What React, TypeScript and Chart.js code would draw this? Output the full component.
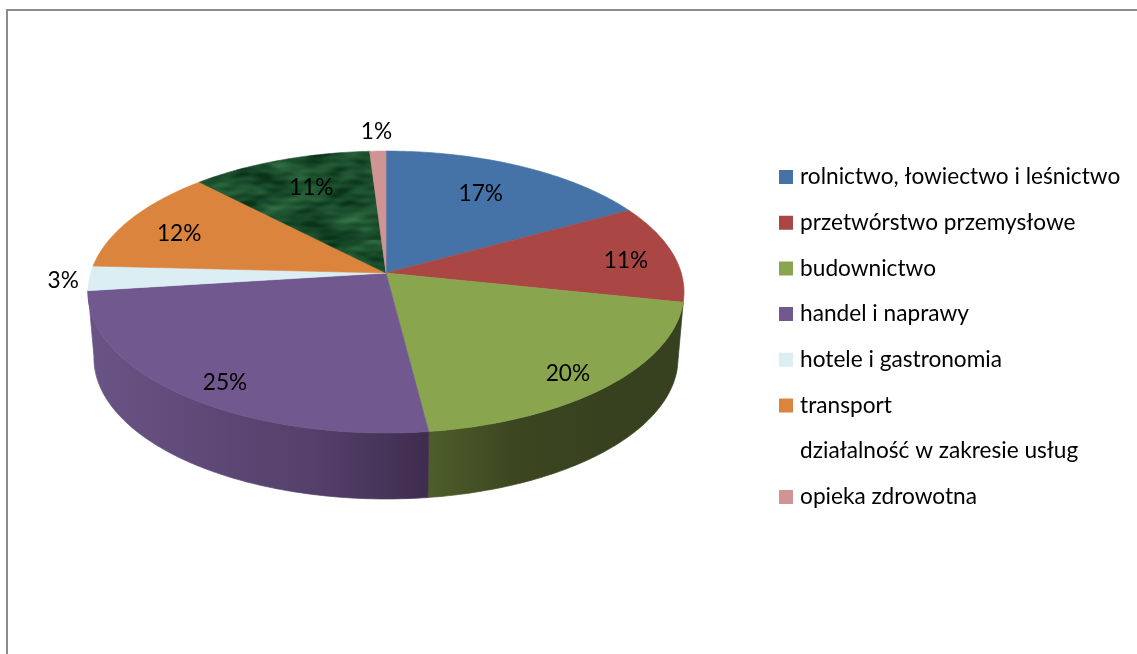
import React, { useEffect, useRef } from "react";
import { Chart, registerables } from "chart.js";

Chart.register(...registerables);

const categories = [
  "rolnictwo, łowiectwo i leśnictwo",
  "przetwórstwo przemysłowe",
  "budownictwo",
  "handel i naprawy",
  "hotele i gastronomia",
  "transport",
  "działalność w zakresie usług",
  "opieka zdrowotna",
];
const shares = [17, 11.3, 19.7, 25, 2.8, 12, 11.2, 1];
const percentLabels = ["17%", "11%", "20%", "25%", "3%", "12%", "11%", "1%"];
const sliceColors = ["#4572a7", "#aa4643", "#89a54e", "#71588f", "#dbeef4", "#db843d", "TEXTURE", "#d09494"];
const legendHasSwatch = [true, true, true, true, true, true, false, true];
const labelRadial = [0.723, 0.83, 0.865, 0.866, 1.087, 0.788, 0.732, 1.19];
const labelAngleShift = [-1.8, 1.5, 2.2, -3.1, -0.4, -2.1, 1.6, 0];
const sideStops: Record<number, string[]> = {
  2: ["#4e5d2b", "#3c4721", "#37411f", "#37411f"],
  3: ["#6a5486", "#5e4977", "#54406a", "#3f2d4f"],
};

const FONT = "Lato";
const FONT_SIZE = 22.65;
const SWATCH_STROKE = 8.5;
const SWATCH_BOX = 5.5;
const APEX_X = 386;
const APEX_Y = 273;
const K = 0.1348;
const A = 295.3;
const B = 138.4;
const DEPTH = 66;
const BOTTOM_SCALE = 0.98;

function project(theta: number, f = 1) {
  const x = Math.sin(theta) * f;
  const u = -Math.cos(theta) * f;
  const d = 1 - K * u;
  return { x: APEX_X + (A * x) / d, y: APEX_Y + (B * u) / d };
}

function makeTexture(ctx: CanvasRenderingContext2D) {
  const W = 420;
  const H = 240;
  const c = document.createElement("canvas");
  c.width = W;
  c.height = H;
  const g = c.getContext("2d")!;
  const img = g.createImageData(W, H);
  for (let y = 0; y < H; y++) {
    for (let x = 0; x < W; x++) {
      const a = Math.sin(x * 0.071 + 1.7 * Math.sin(y * 0.093));
      const b = Math.sin(y * 0.43 + 1.3 * Math.sin(x * 0.057) + 0.9 * Math.sin(x * 0.131));
      const d = Math.sin(x * 0.19 + y * 0.27 + 2.1 * Math.sin(y * 0.061));
      const e = Math.sin(x * 0.037 - y * 0.17 + 1.1 * Math.sin(x * 0.083 + y * 0.049));
      const h = Math.sin(y * 0.89 + 0.6 * Math.sin(x * 0.29));
      const t = Math.max(0, Math.min(1, 0.3 + 0.12 * a + 0.12 * b * e + 0.1 * d * a + 0.1 * e + 0.05 * h));
      const i = (y * W + x) * 4;
      img.data[i] = 10 + t * 55;
      img.data[i + 1] = 52 + t * 85;
      img.data[i + 2] = 26 + t * 60;
      img.data[i + 3] = 255;
    }
  }
  g.putImageData(img, 0, 0);
  return ctx.createPattern(c, "repeat")!;
}

const pie3d = {
  id: "pie3d",
  beforeDraw(chart: any) {
    const lg = chart.legend;
    const pad = lg.options.labels.padding;
    lg.left = 783.25 - pad;
    lg.top = 177 - FONT_SIZE / 2 - pad;
    lg.bottom = lg.top + lg.height;
    lg.right = lg.left + lg.width;
  },
  beforeDatasetsDraw(chart: any) {
    const ctx: CanvasRenderingContext2D = chart.ctx;
    const arcs = chart.getDatasetMeta(0).data;
    const pattern = makeTexture(ctx);
    ctx.save();
    // side wall: only the slices that face the viewer
    arcs.forEach((el: any, i: number) => {
      const stops = sideStops[i];
      if (!stops) return;
      const t0 = el.startAngle + Math.PI / 2;
      const t1 = el.endAngle + Math.PI / 2;
      const steps = Math.max(4, Math.ceil((t1 - t0) * 60));
      const top: { x: number; y: number }[] = [];
      for (let s = 0; s <= steps; s++) top.push(project(t0 + ((t1 - t0) * s) / steps));
      const bottom = top.map((p) => ({
        x: APEX_X + (p.x - APEX_X) * BOTTOM_SCALE,
        y: p.y + DEPTH,
      }));
      const xs = top.map((p) => p.x);
      const g = ctx.createLinearGradient(Math.min(...xs), 0, Math.max(...xs), 0);
      stops.forEach((c, k) => g.addColorStop(k / (stops.length - 1), c));
      ctx.beginPath();
      top.forEach((p, k) => (k ? ctx.lineTo(p.x, p.y) : ctx.moveTo(p.x, p.y)));
      for (let k = bottom.length - 1; k >= 0; k--) ctx.lineTo(bottom[k].x, bottom[k].y);
      ctx.closePath();
      ctx.fillStyle = g;
      ctx.strokeStyle = g;
      ctx.lineWidth = 0.7;
      ctx.fill();
      ctx.stroke();
    });
    // top face
    arcs.forEach((el: any, i: number) => {
      const t0 = el.startAngle + Math.PI / 2;
      const t1 = el.endAngle + Math.PI / 2;
      const steps = Math.max(4, Math.ceil((t1 - t0) * 60));
      const fill = sliceColors[i] === "TEXTURE" ? pattern : sliceColors[i];
      ctx.beginPath();
      ctx.moveTo(APEX_X, APEX_Y);
      for (let s = 0; s <= steps; s++) {
        const p = project(t0 + ((t1 - t0) * s) / steps);
        ctx.lineTo(p.x, p.y);
      }
      ctx.closePath();
      ctx.fillStyle = fill;
      ctx.strokeStyle = fill;
      ctx.lineWidth = 0.6;
      ctx.fill();
      ctx.stroke();
    });
    // percentage labels
    ctx.fillStyle = "#000000";
    ctx.font = `${FONT_SIZE}px ${FONT}`;
    ctx.textAlign = "center";
    ctx.textBaseline = "middle";
    arcs.forEach((el: any, i: number) => {
      const mid = (el.startAngle + el.endAngle) / 2 + Math.PI / 2 + (labelAngleShift[i] * Math.PI) / 180;
      const p = project(mid, labelRadial[i]);
      ctx.fillText(percentLabels[i], p.x, p.y + 1);
    });
    ctx.restore();
    return false;
  },
};

export default function App() {
  const ref = useRef<HTMLCanvasElement>(null);
  useEffect(() => {
    const chart = new Chart(ref.current!, {
      type: "pie",
      data: {
        labels: categories,
        datasets: [{ data: shares, backgroundColor: sliceColors.map((c) => (c === "TEXTURE" ? "#1f5c33" : c)) }],
      },
      plugins: [pie3d],
      options: {
        responsive: false,
        animation: false,
        layout: { padding: 0 },
        plugins: {
          tooltip: { enabled: false },
          legend: {
            position: "right",
            align: "start",
            labels: {
              color: "#000000",
              font: { family: FONT, size: FONT_SIZE },
              boxWidth: SWATCH_BOX,
              boxHeight: SWATCH_BOX,
              padding: 45.7 - FONT_SIZE,
              generateLabels: () =>
                categories.map((text, i) => ({
                  text,
                  index: i,
                  hidden: false,
                  datasetIndex: 0,
                  fontColor: "#000000",
                  fillStyle: legendHasSwatch[i] ? sliceColors[i] : "rgba(0,0,0,0)",
                  strokeStyle: legendHasSwatch[i] ? sliceColors[i] : "rgba(0,0,0,0)",
                  lineWidth: legendHasSwatch[i] ? SWATCH_STROKE : 0,
                })),
            },
          },
        },
      },
    } as any);
    return () => chart.destroy();
  }, []);
  return (
    <div style={{ position: "fixed", left: 0, top: 0, width: 1137, height: 654, background: "#ffffff", overflow: "hidden" }}>
      <div
        style={{
          position: "absolute",
          left: 6,
          top: 9,
          width: 1140,
          height: 660,
          borderTop: "2px solid #8c8c8c",
          borderLeft: "2px solid #8c8c8c",
        }}
      />
      <canvas ref={ref} width={1137} height={654} style={{ position: "absolute", left: 0, top: 0, display: "block" }} />
    </div>
  );
}
